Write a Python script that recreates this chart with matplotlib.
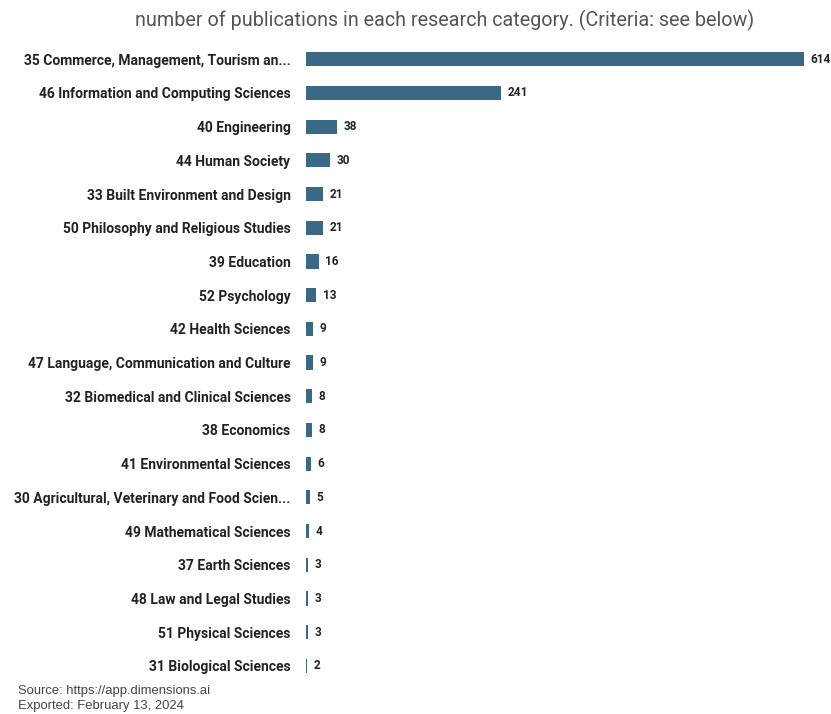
import matplotlib.pyplot as plt

categories = [
    "35 Commerce, Management, Tourism an...",
    "46 Information and Computing Sciences",
    "40 Engineering",
    "44 Human Society",
    "33 Built Environment and Design",
    "50 Philosophy and Religious Studies",
    "39 Education",
    "52 Psychology",
    "42 Health Sciences",
    "47 Language, Communication and Culture",
    "32 Biomedical and Clinical Sciences",
    "38 Economics",
    "41 Environmental Sciences",
    "30 Agricultural, Veterinary and Food Scien...",
    "49 Mathematical Sciences",
    "37 Earth Sciences",
    "48 Law and Legal Studies",
    "51 Physical Sciences",
    "31 Biological Sciences",
]
counts = [614, 241, 38, 30, 21, 21, 16, 13, 9, 9, 8, 8, 6, 5, 4, 3, 3, 3, 2]

plt.rcParams['font.family'] = ['Roboto', 'DejaVu Sans']

fig = plt.figure(figsize=(8.31, 7.14), dpi=100)
ax = fig.add_axes([0.368, 0.0437, 0.5995, 0.897])

ypos = list(range(len(categories)))
ax.barh(ypos, counts, height=0.42, color='#3b6884')
for y, v in zip(ypos, counts):
    ax.text(v + 8, y, str(v), va='center', ha='left', fontsize=8.5,
            fontweight='bold', color='#222222')

ax.set_yticks(ypos)
ax.set_yticklabels(categories, fontsize=10, fontweight='bold', color='#222222')
ax.tick_params(axis='y', length=0, pad=11)
ax.set_ylim(len(categories) - 0.5, -0.5)
ax.set_xlim(0, 614)
ax.set_xticks([])
for s in ax.spines.values():
    s.set_visible(False)

fig.text(0.535, 0.972, "number of publications in each research category. (Criteria: see below)",
         ha='center', va='center', fontsize=14.2, color='#555555')
fig.text(0.022, 0.032, "Source: https://app.dimensions.ai", fontsize=9.4,
         color='#444444', va='center', family='Liberation Sans')
fig.text(0.022, 0.011, "Exported: February 13, 2024", fontsize=9.4,
         color='#444444', va='center', family='Liberation Sans')

fig.savefig('out.png', dpi=100)
